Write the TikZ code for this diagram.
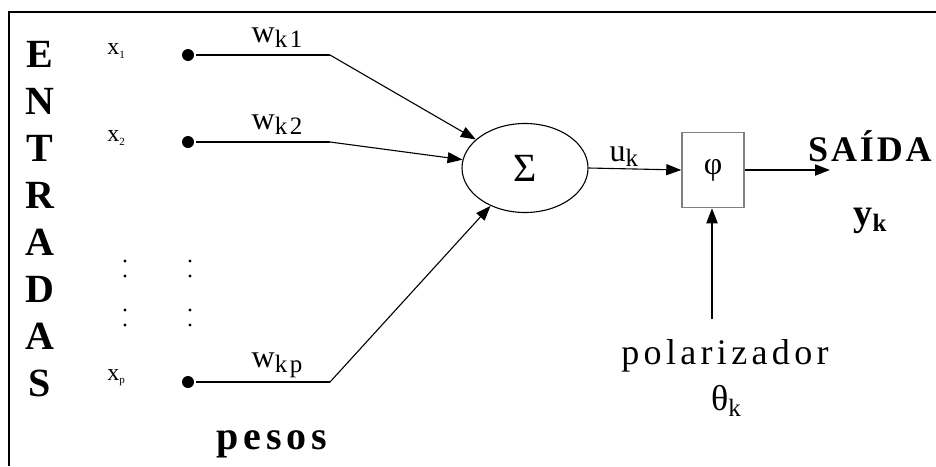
\documentclass[tikz,border=0pt]{standalone}
\usepackage{fontspec}
\setmainfont{Liberation Serif}
\usetikzlibrary{arrows.meta,shapes.geometric,positioning}
\newcommand{\indx}[1]{\raisebox{-0.3ex}{\fontsize{11}{11}\selectfont #1}}
\newcommand{\indk}[1]{\raisebox{-0.35ex}{\fontsize{25}{25}\selectfont\addfontfeature{LetterSpace=10}#1}}
\tikzset{
  letra/.style={font=\fontsize{40}{40}\selectfont\bfseries, inner sep=0pt},
  xlabel/.style={font=\fontsize{24}{24}\selectfont, inner sep=0pt},
  ponto/.style={circle, fill, inner sep=0pt, minimum size=12pt, outer sep=2pt},
  peso/.style={font=\fontsize{32}{32}\selectfont\addfontfeature{LetterSpace=10}, inner sep=0pt},
  fino/.style={line width=1.1pt},
  grosso/.style={line width=2pt},
}
\begin{document}
\begin{tikzpicture}[x=1pt, y=-1pt, >={Triangle[length=15pt,width=11pt]}]
\useasboundingbox (0,0) rectangle (936,466);
% moldura
\draw[grosso] (936,12) -- (9,12) -- (9,466);
% ENTRADAS
\foreach \l [count=\i] in {E,N,T,R,A,D,A,S}
  \node[letra] (l\i) at (40,7+47*\i) {\l};
% somador e funcao
\node[ellipse, draw, fino, minimum width=126pt, minimum height=89pt, inner sep=0pt,
      font=\fontsize{40}{40}\selectfont] (soma) at (525,168) {Σ};
\node[draw=gray, line width=1.5pt, minimum width=62pt, minimum height=75pt, inner sep=0pt,
      font=\fontsize{32}{32}\selectfont] (fi) at (713,170) {φ};
% entradas e pesos
\foreach \y / \n / \w [count=\i] in {55/1/k1, 142/2/k2, 382/p/kp} {
  \node[xlabel] (x\i) at (116,\y-4) {x\indx{\n}};
  \node[ponto] (p\i) at (188,\y) {};
  \coordinate (c\i) at (330,\y);
  \draw[grosso] (p\i) -- (c\i);
  \node[peso] (w\i) at (277,\y-17) {w\indk{\w}};
  \draw[fino, ->] (c\i) -- (soma);
}
% reticencias
\foreach \x in {125,190}
  \foreach \y in {261,276,310,325}
    \fill (\x,\y) circle (1.7pt);
\node[font=\fontsize{40}{40}\selectfont\bfseries\addfontfeature{LetterSpace=12}, inner sep=0pt] (pesos) at (272,444) {pesos};
% saida
\draw[fino, ->] (soma.east) -- (fi.west) node[pos=0.38, above=2pt, peso] (u) {u\indk{k}};
\coordinate (fim) at (830,170);
\draw[grosso, ->] (fi.east) -- (fim);
\node[font=\fontsize{36}{36}\selectfont\bfseries\addfontfeature{LetterSpace=8}, inner sep=0pt] (saida) at (870,146) {SAÍDA};
\node[font=\fontsize{38}{38}\selectfont\bfseries, inner sep=0pt] (y) at (870,221) {y\indk{\bfseries k}};
% polarizador
\node[font=\fontsize{36}{36}\selectfont\addfontfeature{LetterSpace=12}, inner sep=0pt] (pol) at (725,356) {polarizador};
\node[font=\fontsize{36}{36}\selectfont, inner sep=0pt] (teta) at (726,401) {θ\indk{k}};
\coordinate (base) at ([xshift=-13pt, yshift=20pt]pol.north);
\draw[grosso, ->] (base) -- (base |- fi.south);
\end{tikzpicture}
\end{document}
